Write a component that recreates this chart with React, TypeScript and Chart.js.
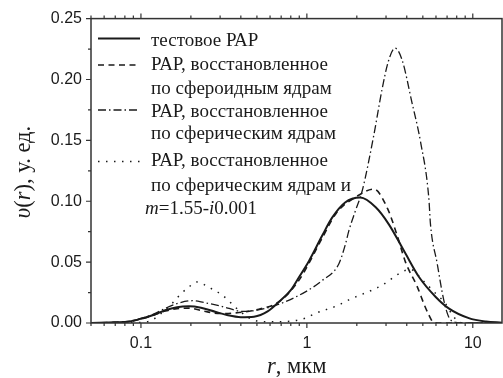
import React, { useEffect, useRef } from 'react';
import { Chart, registerables } from 'chart.js';
Chart.register(...registerables);

// ---- data (r in µm, v(r) in rel. units) ----
const rTest = [0.05, 0.07, 0.085, 0.1, 0.12, 0.14, 0.165, 0.195, 0.23, 0.28, 0.33, 0.4, 0.48, 0.58, 0.68, 0.8, 0.9, 1.03, 1.24, 1.42, 1.7, 2.1, 2.6, 3.12, 3.93, 4.73, 5.96, 7.16, 9.46, 12, 15];
const vTest = [0.0001, 0.0006, 0.0013, 0.0035, 0.0068, 0.0105, 0.013, 0.0137, 0.0125, 0.0092, 0.0065, 0.0048, 0.0052, 0.0095, 0.0175, 0.027, 0.038, 0.051, 0.072, 0.0865, 0.099, 0.103, 0.095, 0.081, 0.057, 0.038, 0.0216, 0.012, 0.004, 0.0012, 0.0003];

const rSpheroid = [0.05, 0.07, 0.085, 0.1, 0.12, 0.14, 0.165, 0.195, 0.245, 0.3, 0.39, 0.514, 0.68, 0.895, 1.24, 1.5, 2.0, 2.53, 3.05, 3.5, 3.93, 4.63, 5.1, 5.43, 5.8, 6.2, 15];
const vSpheroid = [0.0001, 0.0005, 0.0012, 0.0033, 0.0066, 0.0098, 0.0118, 0.0122, 0.0094, 0.0078, 0.0086, 0.0113, 0.0175, 0.035, 0.07, 0.09, 0.104, 0.11, 0.0946, 0.072, 0.05, 0.0297, 0.015, 0.0067, 0.0005, 0, 0];

const rSpherical = [0.05, 0.07, 0.085, 0.1, 0.12, 0.14, 0.17, 0.204, 0.24, 0.29, 0.34, 0.407, 0.5, 0.68, 0.98, 1.24, 1.56, 1.71, 1.79, 1.96, 2.15, 2.53, 2.84, 3.1, 3.4, 3.75, 4.3, 4.84, 5.43, 5.56, 6.1, 6.68, 7.16, 7.9, 9, 15];
const vSpherical = [0.0001, 0.0006, 0.0014, 0.0037, 0.0075, 0.012, 0.0165, 0.0183, 0.0168, 0.0145, 0.012, 0.0095, 0.0105, 0.0155, 0.0256, 0.035, 0.0487, 0.065, 0.0757, 0.092, 0.108, 0.154, 0.192, 0.215, 0.2257, 0.216, 0.181, 0.149, 0.103, 0.081, 0.049, 0.019, 0.005, 0.0005, 0, 0];

const rSphericalM = [0.05, 0.09, 0.112, 0.13, 0.154, 0.173, 0.195, 0.218, 0.245, 0.275, 0.309, 0.347, 0.4, 0.49, 0.6, 0.8, 0.98, 1.13, 1.56, 1.79, 2.47, 2.84, 3.75, 4.2, 5.0, 6.0, 6.84, 7.5, 8.2, 9, 15];
const vSphericalM = [0, 0.0003, 0.0013, 0.007, 0.016, 0.0235, 0.0297, 0.0337, 0.031, 0.027, 0.023, 0.0167, 0.009, 0.002, 0.001, 0.0015, 0.004, 0.008, 0.0148, 0.019, 0.027, 0.031, 0.042, 0.044, 0.035, 0.024, 0.016, 0.007, 0.001, 0, 0];

const xMajorTicks = [0.1, 1, 10];
const xTickLabels = ['0.1', '1', '10'];
const xMinorTicks = [0.05, 0.06, 0.07, 0.08, 0.09, 0.2, 0.3, 0.4, 0.5, 0.6, 0.7, 0.8, 0.9, 2, 3, 4, 5, 6, 7, 8, 9];
const yMajorTicks = [0, 0.05, 0.1, 0.15, 0.2, 0.25];
const yTickLabels = ['0.00', '0.05', '0.10', '0.15', '0.20', '0.25'];
const yMinorTicks = [0.025, 0.075, 0.125, 0.175, 0.225];

type Seg = { t: string; it?: boolean };
const legendEntries: { dash: number[]; width: number; lines: Seg[][] }[] = [
  { dash: [], width: 2, lines: [[{ t: 'тестовое РАР' }]] },
  { dash: [6, 4.5], width: 1.6, lines: [[{ t: 'РАР, восстановленное' }], [{ t: 'по сфероидным ядрам' }]] },
  { dash: [8, 3, 1.5, 3], width: 1.3, lines: [[{ t: 'РАР, восстановленное' }], [{ t: 'по сферическим ядрам' }]] },
  {
    dash: [1.5, 6.5], width: 1.5,
    lines: [
      [{ t: 'РАР, восстановленное' }],
      [{ t: 'по сферическим ядрам и' }],
      [{ t: 'm', it: true }, { t: '=1.55-' }, { t: 'i', it: true }, { t: '0.001' }],
    ],
  },
];
const yTitle: Seg[] = [{ t: 'υ', it: true }, { t: '(' }, { t: 'r', it: true }, { t: '), у. ед.' }];
const xTitle: Seg[] = [{ t: 'r', it: true }, { t: ', мкм' }];

const SERIF = '"Liberation Serif", "Times New Roman", serif';
const SANS = '"Liberation Sans", Arial, sans-serif';
const INK = '#1a1a1a';
const AXIS = '#333';

function drawSegs(ctx: CanvasRenderingContext2D, segs: Seg[], x: number, y: number, size: number, align: 'left' | 'center') {
  const fonts = segs.map((s) => `${s.it ? 'italic ' : ''}${size}px ${SERIF}`);
  const widths = segs.map((s, i) => { ctx.font = fonts[i]; return ctx.measureText(s.t).width; });
  const total = widths.reduce((a, b) => a + b, 0);
  let cx = align === 'center' ? x - total / 2 : x;
  ctx.textAlign = 'left';
  ctx.textBaseline = 'alphabetic';
  segs.forEach((s, i) => { ctx.font = fonts[i]; ctx.fillText(s.t, cx, y); cx += widths[i]; });
}

const decorPlugin = {
  id: 'decor',
  afterDatasetsDraw(chart: any) {
    const { ctx, chartArea: a, scales } = chart;
    const xs = scales.x, ys = scales.y;
    ctx.save();
    // frame
    ctx.strokeStyle = AXIS;
    ctx.lineWidth = 1.5;
    ctx.setLineDash([]);
    ctx.strokeRect(a.left, a.top, a.right - a.left, a.bottom - a.top);
    // ticks
    ctx.lineWidth = 1.2;
    ctx.beginPath();
    const xt = (vals: number[], len: number) => vals.forEach((v) => {
      const px = xs.getPixelForValue(v);
      ctx.moveTo(px, a.bottom); ctx.lineTo(px, a.bottom + len);
      ctx.moveTo(px, a.top); ctx.lineTo(px, a.top - len);
    });
    xt(xMajorTicks, 5); xt(xMinorTicks, 3);
    const yt = (vals: number[], len: number) => vals.forEach((v) => {
      const py = ys.getPixelForValue(v);
      ctx.moveTo(a.left, py); ctx.lineTo(a.left - len, py);
    });
    yt(yMajorTicks, 5); yt(yMinorTicks, 3);
    ctx.stroke();

    ctx.fillStyle = INK;
    // x title
    drawSegs(ctx, xTitle, 267, 373, 22.5, 'left');
    // y title
    ctx.save();
    ctx.translate(30, 172);
    ctx.rotate(-Math.PI / 2);
    drawSegs(ctx, yTitle, 0, 0, 22.5, 'center');
    ctx.restore();

    // legend
    const baselines = [45.5, 70, 93.5, 116.5, 139, 166, 191, 214];
    const sampleY = [38.5, 65, 110, 161.5];
    let li = 0;
    legendEntries.forEach((e, ei) => {
      ctx.strokeStyle = INK;
      ctx.lineWidth = e.width;
      ctx.setLineDash(e.dash);
      ctx.beginPath();
      ctx.moveTo(98, sampleY[ei]);
      ctx.lineTo(140, sampleY[ei]);
      ctx.stroke();
      ctx.setLineDash([]);
      e.lines.forEach((ln, k) => {
        const isM = ei === 3 && k === 2;
        drawSegs(ctx, ln, isM ? 145 : 151, baselines[li], 19, 'left');
        li++;
      });
    });
    ctx.restore();
  },
};

function ds(rs: number[], vs: number[], dash: number[], width: number) {
  return {
    data: rs.map((r, i) => ({ x: r, y: vs[i] })),
    borderColor: INK,
    borderWidth: width,
    borderDash: dash,
    pointRadius: 0,
    fill: false,
    cubicInterpolationMode: 'monotone' as const,
  };
}

export default function App() {
  const ref = useRef<HTMLCanvasElement>(null);
  useEffect(() => {
    document.body.style.margin = '0';
    const chart = new Chart(ref.current!, {
      type: 'line',
      data: {
        datasets: [
          ds(rTest, vTest, [], 2),
          ds(rSpheroid, vSpheroid, [6, 4.5], 1.6),
          ds(rSpherical, vSpherical, [8, 3, 1.5, 3], 1.3),
          ds(rSphericalM, vSphericalM, [1.5, 6.5], 1.5),
        ],
      },
      options: {
        animation: false,
        responsive: false,
        devicePixelRatio: 1,
        layout: { padding: { top: 15, right: 1, left: 0, bottom: 0 } },
        plugins: { legend: { display: false }, tooltip: { enabled: false } },
        scales: {
          x: {
            type: 'logarithmic',
            min: 0.05,
            max: 15,
            afterBuildTicks: (s: any) => { s.ticks = xMajorTicks.map((v) => ({ value: v })); },
            afterFit: (s: any) => { s.height = 55; },
            ticks: {
              autoSkip: false,
              maxRotation: 0,
              padding: 11,
              color: INK,
              font: { family: SANS, size: 16 },
              callback: (v: any) => xTickLabels[xMajorTicks.indexOf(Number(v))] ?? '',
            },
            grid: { display: false, drawTicks: false },
            border: { display: false },
          },
          y: {
            type: 'linear',
            min: 0,
            max: 0.25,
            afterBuildTicks: (s: any) => { s.ticks = yMajorTicks.map((v) => ({ value: v })); },
            afterFit: (s: any) => { s.width = 91; },
            ticks: {
              padding: 9,
              color: INK,
              font: { family: SANS, size: 16 },
              callback: (v: any) => yTickLabels[yMajorTicks.indexOf(Number(v))] ?? '',
            },
            grid: { display: false, drawTicks: false },
            border: { display: false },
          },
        },
      },
      plugins: [decorPlugin],
    } as any);
    return () => chart.destroy();
  }, []);
  return (
    <div style={{ width: 503, height: 378 }}>
      <canvas ref={ref} width={503} height={378} style={{ display: 'block' }} />
    </div>
  );
}
